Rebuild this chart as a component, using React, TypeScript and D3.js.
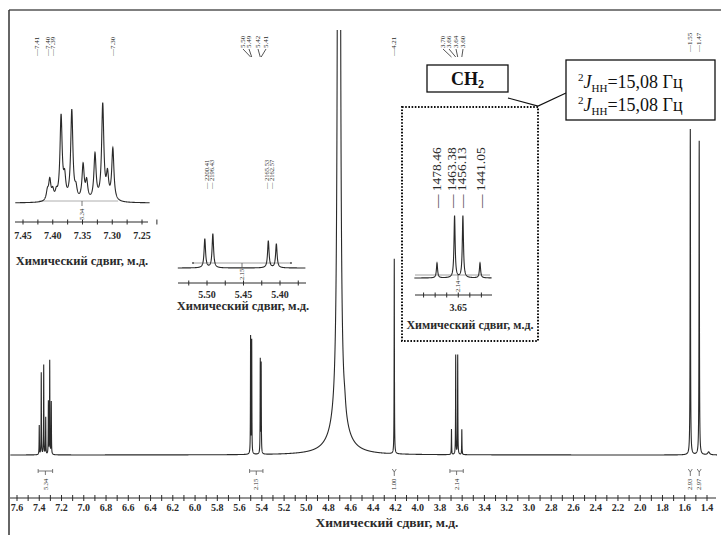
import React from 'react';
import * as d3 from 'd3';

// ---------- data ----------
const axisTicks = [7.6, 7.4, 7.2, 7.0, 6.8, 6.6, 6.4, 6.2, 6.0, 5.8, 5.6, 5.4, 5.2, 5.0, 4.8, 4.6, 4.4, 4.2, 4.0, 3.8, 3.6, 3.4, 3.2, 3.0, 2.8, 2.6, 2.4, 2.2, 2.0, 1.8, 1.6, 1.4];

// main spectrum lines (ppm, relative height where 4.21 singlet = 100, half-width ppm)
const mainPpm = [7.400, 7.382, 7.360, 7.342, 7.318, 7.306, 7.292, 5.501, 5.491, 5.414, 5.406, 4.707, 4.707, 4.655, 4.21, 3.696, 3.658, 3.640, 3.603, 1.55, 1.47, 1.385];
const mainHeight = [15, 42, 46, 19, 27, 48, 27, 60, 58, 48, 46, 3000, 15, 4, 100, 13, 51, 51, 13, 167, 161, 1.5];
const mainWidth = [0.0015, 0.0015, 0.0015, 0.0015, 0.0015, 0.0015, 0.0015, 0.0015, 0.0015, 0.0015, 0.0015, 0.0042, 0.085, 0.01, 0.0015, 0.0015, 0.0015, 0.0015, 0.0015, 0.002, 0.002, 0.01];

// aromatic inset
const aroPpm = [7.409, 7.405, 7.400, 7.394, 7.386, 7.380, 7.368, 7.361, 7.349, 7.343, 7.329, 7.316, 7.308, 7.299];
const aroHeight = [9, 20, 9, 7, 84, 20, 90, 10, 35, 18, 46, 96, 24, 52];
const aroTicks = [7.45, 7.40, 7.35, 7.30, 7.25];

// olefinic inset
const olePpm = [5.503, 5.492, 5.416, 5.405];
const oleHeight = [29, 34, 27, 24];
const oleTicks = [5.50, 5.45, 5.40];
const oleHz = ['2200.41', '2196.43', '2165.53', '2162.57'];

// CH2 inset
const ch2Ppm = [3.696, 3.658, 3.640, 3.603];
const ch2Height = [15, 62, 62, 15];
const ch2Hz = ['1478.46', '1463.38', '1456.13', '1441.05'];
const ch2Ticks = [3.65];

// peak picking labels on top
const topAroLabels = ['7.41', '7.40', '7.39', '7.30'];
const topOleLabels = ['5.50', '5.49', '5.42', '5.41'];
const topOlePpm = [5.501, 5.491, 5.414, 5.406];
const topCh2Labels = ['3.70', '3.66', '3.64', '3.60'];
const topCh2Ppm = [3.696, 3.658, 3.640, 3.603];
const topSingleLabels = ['4.21', '1.55', '1.47'];
const topSinglePpm = [4.21, 1.55, 1.47];

// integrals
const integralLabels = ['5.34', '2.15', '1.00', '2.14', '2.93', '2.97'];
const integralFrom = [7.41, 5.51, 4.21, 3.71, 1.55, 1.47];
const integralTo = [7.28, 5.39, 4.21, 3.59, 1.55, 1.47];

const AXIS_TITLE = 'Химический сдвиг, м.д.';

// ---------- helpers ----------
function spectrum(lo: number, hi: number, step: number, ppm: number[], h: number[], g: number[] | number) {
  const pts: [number, number][] = [];
  for (let p = hi; p >= lo; p -= step) {
    let s = 0;
    for (let i = 0; i < ppm.length; i++) {
      const gi = Array.isArray(g) ? g[i] : g;
      const d = (p - ppm[i]) / gi;
      s += h[i] / (1 + d * d);
    }
    pts.push([p, s]);
  }
  return pts;
}

const SERIF = '"Liberation Serif", "DejaVu Serif", serif';
const INK = '#2a2a2a';

function RotLabel({ x, y, text, size }: { x: number; y: number; text: string; size: number }) {
  return (
    <text transform={`translate(${x},${y}) rotate(-90)`} fontSize={size} fontFamily={SERIF} fill={INK} dy="0.33em">
      {text}
    </text>
  );
}

export default function App() {
  // main scales
  const x = d3.scaleLinear().domain([7.6, 1.4]).range([17, 707]);
  const y = d3.scaleLinear().domain([0, 100]).range([455, 260]);
  const mainPts = spectrum(1.31, 7.66, 0.0005, mainPpm, mainHeight, mainWidth);
  const mainLine = d3.line<[number, number]>().x(d => x(d[0])).y(d => y(d[1]))(mainPts) || '';

  // aromatic inset
  const xa = d3.scaleLinear().domain([7.45, 7.25]).range([23, 142]);
  const ya = d3.scaleLinear().domain([0, 100]).range([203, 103]);
  const aroPts = spectrum(7.237, 7.463, 0.0002, aroPpm, aroHeight, 0.0022);
  const aroLine = d3.line<[number, number]>().x(d => xa(d[0])).y(d => ya(d[1]))(aroPts) || '';
  const aroMinor = d3.range(7.45, 7.22, -0.025);

  // olefinic inset
  const xo = d3.scaleLinear().domain([5.50, 5.40]).range([207, 280]);
  const yo = d3.scaleLinear().domain([0, 100]).range([268, 168]);
  const olePts = spectrum(5.365, 5.54, 0.0002, olePpm, oleHeight, 0.0012);
  const oleLine = d3.line<[number, number]>().x(d => xo(d[0])).y(d => yo(d[1]))(olePts) || '';
  const oleMinor = d3.range(5.525, 5.36, -0.025);

  // CH2 inset
  const xc = d3.scaleLinear().domain([3.696, 3.603]).range([437, 480]);
  const yc = d3.scaleLinear().domain([0, 100]).range([278, 178]);
  const ch2Pts = spectrum(3.578, 3.745, 0.0002, ch2Ppm, ch2Height, 0.0015);
  const ch2Line = d3.line<[number, number]>().x(d => xc(d[0])).y(d => yc(d[1]))(ch2Pts) || '';
  const ch2Minor = d3.range(3.725, 3.58, -0.025);

  const mainMinor = d3.range(7.6, 1.35, -0.1);

  // layout for label groups
  const aroLabelX = [37, 48, 53, 113];
  const oleLabelX = [243, 249, 258, 266];
  const ch2LabelX = [443, 449, 456, 463];
  const oleHzX = [207, 212, 267, 272];
  const ch2HzX = [437, 452, 462, 481];

  return (
    <svg width={721} height={535} style={{ position: 'absolute', left: 0, top: 0, background: '#fff' }}>
      <defs>
        <clipPath id="mainClip">
          <rect x={0} y={30} width={721} height={505} />
        </clipPath>
      </defs>
      <rect x={0} y={0} width={721} height={535} fill="#fff" />
      {/* frame */}
      <line x1={9} y1={10} x2={721} y2={10} stroke="#555" strokeWidth={1.5} />
      <line x1={9} y1={10} x2={9} y2={535} stroke="#333" strokeWidth={1.5} />

      {/* main spectrum */}
      <path d={mainLine} fill="none" stroke={INK} strokeWidth={1.1} clipPath="url(#mainClip)" />

      {/* main axis */}
      <line x1={10} y1={498} x2={716} y2={498} stroke={INK} strokeWidth={1} />
      {mainMinor.map((t, i) => (
        <line key={'mt' + i} x1={x(t)} x2={x(t)} y1={495} y2={501} stroke={INK} strokeWidth={1} />
      ))}
      {axisTicks.map((t, i) => (
        <text key={'tl' + i} x={x(t)} y={511} fontSize={10} fontWeight="bold" fontFamily={SERIF} textAnchor="middle" fill={INK}>
          {t.toFixed(1)}
        </text>
      ))}
      <text x={387} y={527} fontSize={13.5} fontWeight="bold" fontFamily={SERIF} textAnchor="middle" fill={INK}>
        {AXIS_TITLE}
      </text>

      {/* integrals on main */}
      {integralLabels.map((lab, i) => {
        const a = x(integralFrom[i]);
        const b = x(integralTo[i]);
        const c = (a + b) / 2;
        const bracket = b - a > 2;
        return (
          <g key={'int' + i} stroke="#555" strokeWidth={0.8}>
            {bracket ? (
              <>
                <line x1={a} x2={b} y1={471} y2={471} />
                <line x1={a} x2={a} y1={469} y2={473} />
                <line x1={b} x2={b} y1={469} y2={473} />
                <line x1={c} x2={c} y1={471} y2={475} />
              </>
            ) : (
              <>
                <line x1={c - 2} x2={c} y1={469} y2={472} />
                <line x1={c + 2} x2={c} y1={469} y2={472} />
                <line x1={c} x2={c} y1={472} y2={476} />
              </>
            )}
            <g stroke="none">
              <RotLabel x={c} y={490} text={lab} size={6.5} />
            </g>
          </g>
        );
      })}

      {/* top peak labels */}
      {topAroLabels.map((l, i) => (
        <RotLabel key={'ta' + i} x={aroLabelX[i]} y={56} text={'—' + l} size={7} />
      ))}
      {topOleLabels.map((l, i) => (
        <g key={'to' + i}>
          <RotLabel x={oleLabelX[i]} y={48} text={l} size={7} />
          <line x1={oleLabelX[i]} y1={49} x2={x(topOlePpm[i])} y2={57} stroke={INK} strokeWidth={0.8} />
        </g>
      ))}
      {topCh2Labels.map((l, i) => (
        <g key={'tc' + i}>
          <RotLabel x={ch2LabelX[i]} y={48} text={l} size={7} />
          <line x1={ch2LabelX[i]} y1={49} x2={x(topCh2Ppm[i])} y2={57} stroke={INK} strokeWidth={0.8} />
        </g>
      ))}
      {topSingleLabels.map((l, i) => (
        <RotLabel key={'ts' + i} x={x(topSinglePpm[i]) - 1} y={i === 0 ? 56 : 52} text={'—' + l} size={7} />
      ))}

      {/* ---------- aromatic inset ---------- */}
      <line x1={xa(7.423)} x2={xa(7.29)} y1={201} y2={201} stroke="#999" strokeWidth={0.8} />
      <path d={aroLine} fill="none" stroke={INK} strokeWidth={1.1} />
      <line x1={82} x2={82} y1={201} y2={206} stroke="#555" strokeWidth={0.8} />
      <RotLabel x={82} y={220} text="5.34" size={6.5} />
      <line x1={15} x2={148} y1={222} y2={222} stroke={INK} strokeWidth={1} />
      {aroMinor.map((t, i) => (
        <line key={'am' + i} x1={xa(t)} x2={xa(t)} y1={219.5} y2={224.5} stroke={INK} strokeWidth={1} />
      ))}
      {aroTicks.map((t, i) => (
        <text key={'at' + i} x={xa(t)} y={239} fontSize={10} fontWeight="bold" fontFamily={SERIF} textAnchor="middle" fill={INK}>
          {t.toFixed(2)}
        </text>
      ))}
      <text x={82} y={265} fontSize={12.5} fontWeight="bold" fontFamily={SERIF} textAnchor="middle" fill={INK}>
        {AXIS_TITLE}
      </text>

      {/* ---------- olefinic inset ---------- */}
      {oleHz.map((l, i) => (
        <RotLabel key={'oh' + i} x={oleHzX[i]} y={189} text={'— ' + l} size={6.5} />
      ))}
      <line x1={193} x2={291} y1={263} y2={263} stroke="#888" strokeWidth={0.8} />
      <circle cx={193} cy={263} r={1} fill="#555" />
      <circle cx={291} cy={263} r={1} fill="#555" />
      <path d={oleLine} fill="none" stroke={INK} strokeWidth={1.1} />
      <line x1={242} x2={242} y1={263} y2={268} stroke="#555" strokeWidth={0.8} />
      <RotLabel x={242} y={280} text="2.15" size={6.5} />
      <line x1={178} x2={306} y1={283} y2={283} stroke={INK} strokeWidth={1} />
      {oleMinor.map((t, i) => (
        <line key={'om' + i} x1={xo(t)} x2={xo(t)} y1={280.5} y2={285.5} stroke={INK} strokeWidth={1} />
      ))}
      {oleTicks.map((t, i) => (
        <text key={'ot' + i} x={xo(t)} y={298} fontSize={10} fontWeight="bold" fontFamily={SERIF} textAnchor="middle" fill={INK}>
          {t.toFixed(2)}
        </text>
      ))}
      <text x={243} y={310} fontSize={12.5} fontWeight="bold" fontFamily={SERIF} textAnchor="middle" fill={INK}>
        {AXIS_TITLE}
      </text>

      {/* ---------- CH2 inset ---------- */}
      <rect x={402} y={107} width={136} height={234} fill="#fff" stroke="#111" strokeWidth={2} strokeDasharray="1.6,1.6" />
      {ch2Hz.map((l, i) => (
        <RotLabel key={'ch' + i} x={ch2HzX[i]} y={208} text={'— ' + l} size={13.5} />
      ))}
      <line x1={415} x2={490} y1={275} y2={275} stroke="#888" strokeWidth={0.8} />
      <path d={ch2Line} fill="none" stroke={INK} strokeWidth={1.1} />
      <line x1={458} x2={458} y1={275} y2={280} stroke="#555" strokeWidth={0.8} />
      <RotLabel x={458} y={292} text="2.14" size={6.5} />
      <line x1={415} x2={492} y1={295} y2={295} stroke={INK} strokeWidth={1} />
      {ch2Minor.map((t, i) => (
        <line key={'cm' + i} x1={xc(t)} x2={xc(t)} y1={292.5} y2={297.5} stroke={INK} strokeWidth={1} />
      ))}
      {ch2Ticks.map((t, i) => (
        <text key={'ct' + i} x={xc(t)} y={311} fontSize={10} fontWeight="bold" fontFamily={SERIF} textAnchor="middle" fill={INK}>
          {t.toFixed(2)}
        </text>
      ))}
      <text x={470} y={329} fontSize={12} fontWeight="bold" fontFamily={SERIF} textAnchor="middle" fill={INK}>
        {AXIS_TITLE}
      </text>

      {/* CH2 label box and connector */}
      <rect x={427} y={65} width={81} height={27} fill="#fff" stroke="#111" strokeWidth={1.3} />
      <text x={467.5} y={85} fontSize={18} fontWeight="bold" fontFamily={SERIF} textAnchor="middle" fill="#111">
        CH<tspan fontSize={12} dy={3}>2</tspan>
      </text>
      <polyline points="508,98 538,106 566,93" fill="none" stroke="#111" strokeWidth={1.2} />

      {/* J coupling box */}
      <rect x={566} y={60} width={149} height={60} fill="#fff" stroke="#111" strokeWidth={1.3} />
      {[88, 111].map((yy, i) => (
        <text key={'j' + i} x={578} y={yy} fontSize={18} fontFamily={SERIF} fill="#111">
          <tspan fontSize={11} dy={-7}>2</tspan>
          <tspan dy={7} fontStyle="italic">J</tspan>
          <tspan fontSize={11} dy={4}>HH</tspan>
          <tspan dy={-4}>=15,08 Гц</tspan>
        </text>
      ))}
    </svg>
  );
}
